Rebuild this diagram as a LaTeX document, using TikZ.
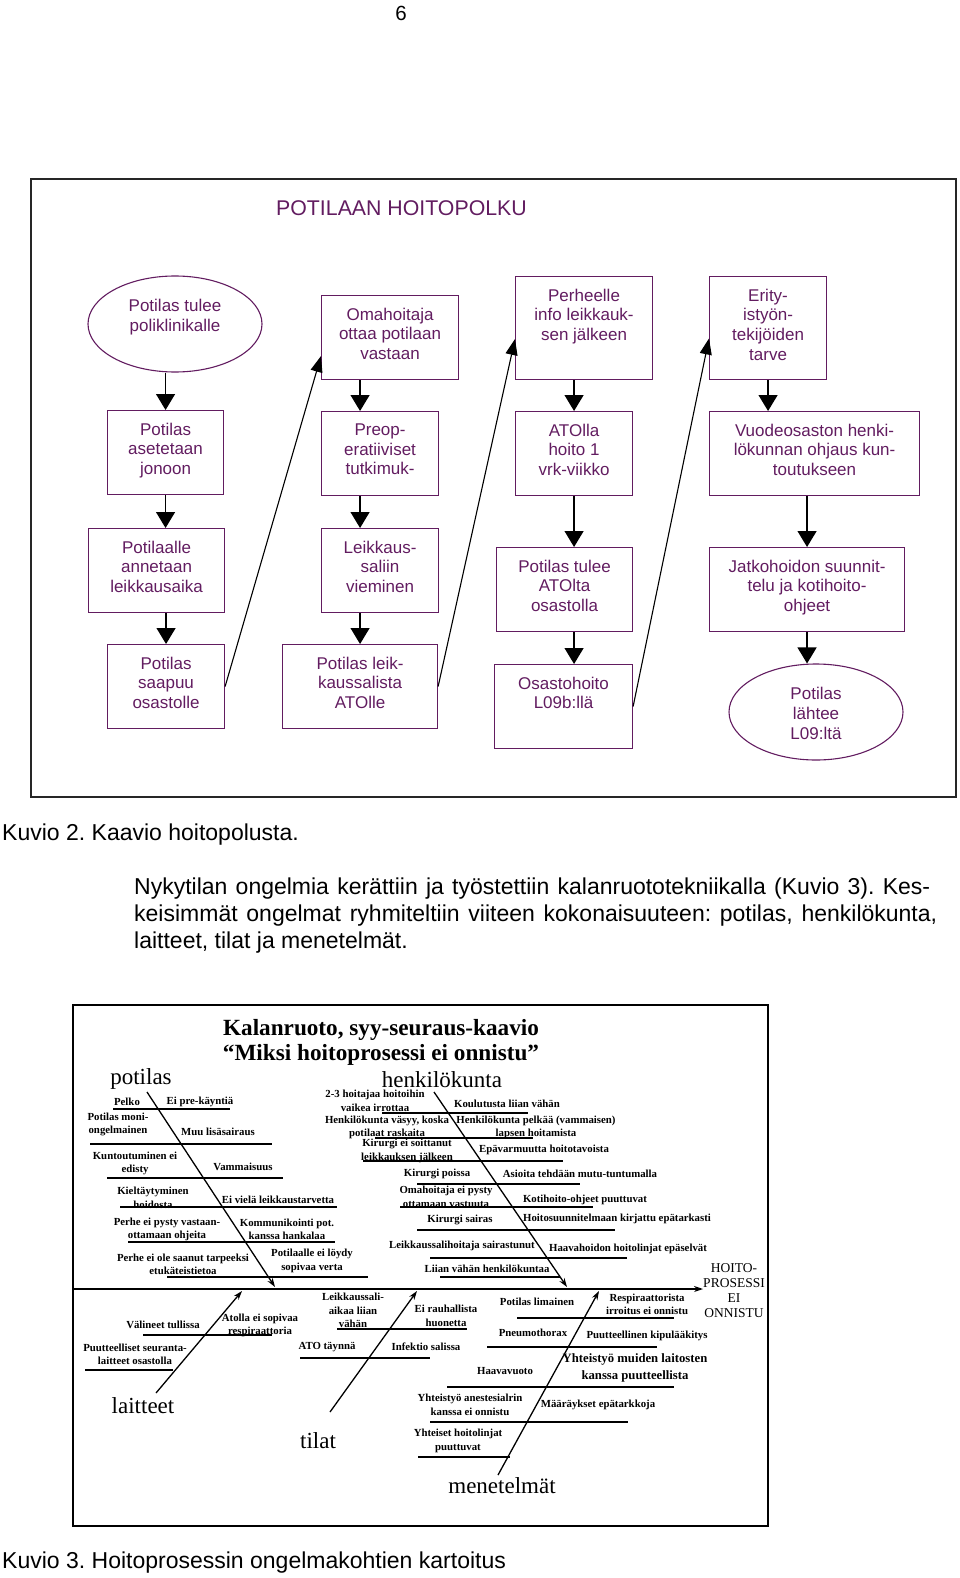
\documentclass[tikz,border=0pt]{standalone}
\usepackage{fontspec}
\setmainfont{Liberation Sans}
\newfontfamily\timesfont{Liberation Serif}
\usepackage{xcolor}
\usetikzlibrary{arrows.meta,positioning,shapes.geometric}

\definecolor{hpurple}{RGB}{98,28,96}
\frenchspacing

\begin{document}
\begin{tikzpicture}[x=1pt, y=-1pt,
    box/.style={rectangle, draw=hpurple, line width=1.1pt, inner sep=0pt, anchor=north west},
    oval/.style={ellipse, draw=hpurple, line width=1.1pt, inner sep=0pt, minimum width=174pt, minimum height=96pt},
    boxtext/.style={align=center, inner sep=0pt, text=hpurple, font=\fontsize{17}{19.7}\selectfont},
    flow/.style={line width=1.3pt, -{Triangle[length=16pt, width=19pt]}},
    jump/.style={line width=1.1pt, -{Triangle[length=16pt, width=12pt]}},
    body/.style={anchor=base west, inner sep=0pt, font=\fontsize{23}{27}\selectfont},
    cause/.style={align=center, inner sep=0pt, font=\timesfont\bfseries\fontsize{10.8}{13.5}\selectfont},
    category/.style={inner sep=0pt, font=\timesfont\fontsize{23}{25}\selectfont},
    bone/.style={line width=1.3pt, -{Stealth[length=9pt, width=6pt]}},
    twig/.style={line width=1.1pt}
  ]
    \useasboundingbox (0,0) rectangle (960,1578);

    \node[inner sep=0pt, font=\fontsize{20.5}{24}\selectfont] (pageno) at (401,13) {6};

    % hoitopolku
    \draw[line width=1.2pt, black!85] (31,179) rectangle (956,797);
    \node[anchor=west, inner sep=0pt, text=hpurple, font=\fontsize{21.3}{24}\selectfont] (pathtitle) at (276,208) {POTILAAN HOITOPOLKU};

    \node[oval] (arrive) at (175,324) {};
    \node[box, minimum width=137pt, minimum height=84pt] (oma) at (321,295) {};
    \node[box, minimum width=137pt, minimum height=103pt] (perhe) at (515,276) {};
    \node[box, minimum width=117pt, minimum height=103pt] (erity) at (709,276) {};

    \node[box, minimum width=116pt, minimum height=84pt] (aset) at (107,410) {};
    \node[box, minimum width=117pt, minimum height=84pt] (preop) at (321,411) {};
    \node[box, minimum width=117pt, minimum height=84pt] (atolla) at (515,411) {};
    \node[box, minimum width=210pt, minimum height=84pt] (vuode) at (709,411) {};

    \node[box, minimum width=136pt, minimum height=84pt] (annet) at (88,528) {};
    \node[box, minimum width=117pt, minimum height=84pt] (leiksali) at (321,528) {};
    \node[box, minimum width=136pt, minimum height=84pt] (tuleeato) at (496,547) {};
    \node[box, minimum width=195pt, minimum height=84pt] (jatko) at (709,547) {};

    \node[box, minimum width=117pt, minimum height=84pt] (saapuu) at (107,644) {};
    \node[box, minimum width=155pt, minimum height=84pt] (leikato) at (282,644) {};
    \node[box, minimum width=138pt, minimum height=84pt] (osasto) at (494,664) {};
    \node[oval] (lahtee) at (816,712) {};

    \node[boxtext, below=23.7pt of arrive.north] (arriveT) {Potilas tulee\\poliklinikalle};
    \node[boxtext, below=12.7pt of oma.north] (omaT) {Omahoitaja\\ottaa potilaan\\vastaan};
    \node[boxtext, below=12.7pt of perhe.north] (perheT) {Perheelle\\info leikkauk-\\sen jälkeen};
    \node[boxtext, below=12.7pt of erity.north] (erityT) {Erity-\\istyön-\\tekijöiden\\tarve};
    \node[boxtext, below=12.7pt of aset.north] (asetT) {Potilas\\asetetaan\\jonoon};
    \node[boxtext, below=12.7pt of preop.north] (preopT) {Preop-\\eratiiviset\\tutkimuk-};
    \node[boxtext, below=12.7pt of atolla.north] (atollaT) {ATOlla\\hoito 1\\vrk-viikko};
    \node[boxtext, below=12.7pt of vuode.north] (vuodeT) {Vuodeosaston henki-\\lökunnan ohjaus kun-\\toutukseen};
    \node[boxtext, below=12.7pt of annet.north] (annetT) {Potilaalle\\annetaan\\leikkausaika};
    \node[boxtext, below=12.7pt of leiksali.north] (leiksaliT) {Leikkaus-\\saliin\\vieminen};
    \node[boxtext, below=12.7pt of tuleeato.north] (tuleeatoT) {Potilas tulee\\ATOlta\\osastolla};
    \node[boxtext, below=12.7pt of jatko.north] (jatkoT) {Jatkohoidon suunnit-\\telu ja kotihoito-\\ohjeet};
    \node[boxtext, below=12.7pt of saapuu.north] (saapuuT) {Potilas\\saapuu\\osastolle};
    \node[boxtext, below=12.7pt of leikato.north] (leikatoT) {Potilas leik-\\kaussalista\\ATOlle};
    \node[boxtext, below=12.7pt of osasto.north] (osastoT) {Osastohoito\\L09b:llä};
    \node[boxtext, below=23.7pt of lahtee.north] (lahteeT) {Potilas\\lähtee\\L09:ltä};

    \draw[flow] (arrive.south -| aset.north) -- (aset.north);
    \draw[flow] (aset.south) -- (aset.south |- annet.north);
    \draw[flow] (annet.south -| saapuu.north) -- (saapuu.north);
    \draw[flow] (oma.south -| leikato.north) -- (preop.north -| leikato.north);
    \draw[flow] (preop.south -| leikato.north) -- (leiksali.north -| leikato.north);
    \draw[flow] (leiksali.south -| leikato.north) -- (leikato.north);
    \draw[flow] (perhe.south -| atolla.north) -- (atolla.north);
    \draw[flow] (atolla.south) -- (atolla.south |- tuleeato.north);
    \draw[flow] (tuleeato.south -| atolla.north) -- (osasto.north -| atolla.north);
    \draw[flow] (erity.south) -- (erity.south |- vuode.north);
    \draw[flow] (vuode.south -| jatko.north) -- (jatko.north);
    \draw[flow] (jatko.south) -- (jatko.south |- lahtee.north);

    \draw[jump] (saapuu.east) -- (oma.195);
    \draw[jump] (leikato.east) -- (perhe.189);
    \draw[jump] (osasto.east) -- (erity.190);

    % teksti
    \node[body] (cap2) at (2,840) {Kuvio 2. Kaavio hoitopolusta.};
    \node[body] (par1) at (134,894) {\makebox[796pt][s]{Nykytilan ongelmia kerättiin ja työstettiin kalanruototekniikalla (Kuvio 3). Kes-}};
    \node[body] (par2) at (134,921) {\makebox[803pt][s]{keisimmät ongelmat ryhmiteltiin viiteen kokonaisuuteen: potilas, henkilökunta,}};
    \node[body] (par3) at (134,948) {laitteet, tilat ja menetelmät.};

    % kalanruoto
    \draw[line width=1.8pt] (73,1005) rectangle (768,1526);
    \node[align=center, inner sep=0pt, font=\timesfont\bfseries\fontsize{23.2}{25.5}\selectfont] (fishtitle) at (381,1042.5) {Kalanruoto, syy-seuraus-kaavio\\“Miksi hoitoprosessi ei onnistu”};

    \node[category] (potilas) at (141,1079) {potilas};
    \node[category] (henkilo) at (442,1079.5) {henkilökunta};
    \node[category] (laitteet) at (143,1405.5) {laitteet};
    \node[category] (tilat) at (318,1440.5) {tilat};
    \node[category] (menet) at (502,1485.5) {menetelmät};
    \node[align=center, inner sep=0pt, font=\timesfont\fontsize{13.5}{15}\selectfont] (hoito) at (734,1290.5) {HOITO-\\PROSESSI\\EI\\ONNISTU};

    \coordinate (spineL) at (74,1289);
    \coordinate (potS) at (147,1092);
    \coordinate (potT) at (275,1287);
    \coordinate (henS) at (434,1092);
    \coordinate (henT) at (567,1287);
    \coordinate (laiS) at (156,1393);
    \coordinate (laiT) at (242,1291);
    \coordinate (tilS) at (330,1412);
    \coordinate (tilT) at (417,1291);
    \coordinate (menS) at (498,1475);
    \coordinate (menT) at (599,1291);

    \draw[bone] (spineL) -- (spineL -| hoito.west);
    \draw[bone] (potS) -- (potT);
    \draw[bone] (henS) -- (henT);
    \draw[bone] (laiS) -- (laiT);
    \draw[bone] (tilS) -- (tilT);
    \draw[bone] (menS) -- (menT);

    % potilas
    \draw[twig] (113,1109) -- (230,1109);
    \draw[twig] (90,1144) -- (272,1144);
    \draw[twig] (107,1178) -- (283,1178);
    \draw[twig] (120,1207) -- (337,1207);
    \draw[twig] (128,1242) -- (335,1242);
    \draw[twig] (167,1277) -- (368,1277);
    \node[cause] (p1) at (127,1102) {Pelko};
    \node[cause] (p2) at (200,1102) {Ei pre-käyntiä};
    \node[cause] (p3) at (118,1124.5) {Potilas moni-\\ongelmainen};
    \node[cause] (p4) at (218,1132) {Muu lisäsairaus};
    \node[cause] (p5) at (135,1163.5) {Kuntoutuminen ei\\edisty};
    \node[cause] (p6) at (243,1167) {Vammaisuus};
    \node[cause] (p7) at (153,1198) {Kieltäytyminen\\hoidosta};
    \node[cause] (p8) at (278,1200) {Ei vielä leikkaustarvetta};
    \node[cause] (p9) at (167,1229.5) {Perhe ei pysty vastaan-\\ottamaan ohjeita};
    \node[cause] (p10) at (287,1229.5) {Kommunikointi pot.\\kanssa hankalaa};
    \node[cause] (p11) at (183,1264.5) {Perhe ei ole saanut tarpeeksi\\etukäteistietoa};
    \node[cause] (p12) at (312,1261) {Potilaalle ei löydy\\sopivaa verta};

    % henkilokunta
    \draw[twig] (382,1113) -- (528,1113);
    \draw[twig] (375,1138) -- (533,1138);
    \draw[twig] (363,1161) -- (563,1161);
    \draw[twig] (417,1184) -- (580,1184);
    \draw[twig] (400,1207) -- (593,1207);
    \draw[twig] (417,1230) -- (615,1230);
    \draw[twig] (430,1258) -- (627,1258);
    \draw[twig] (440,1277) -- (560,1277);
    \node[cause] (h1) at (375,1101) {2-3 hoitajaa hoitoihin\\vaikea irrottaa};
    \node[cause] (h2) at (507,1104) {Koulutusta liian vähän};
    \node[cause] (h3) at (387,1127.5) {Henkilökunta väsyy, koska\\potilaat raskaita};
    \node[cause] (h4) at (536,1127.5) {Henkilökunta pelkää (vammaisen)\\lapsen hoitamista};
    \node[cause] (h5) at (407,1151) {Kirurgi ei soittanut\\leikkauksen jälkeen};
    \node[cause] (h6) at (544,1150) {Epävarmuutta hoitotavoista};
    \node[cause] (h7) at (437,1174) {Kirurgi poissa};
    \node[cause] (h8) at (580,1174) {Asioita tehdään mutu-tuntumalla};
    \node[cause] (h9) at (446,1197) {Omahoitaja ei pysty\\ottamaan vastuuta};
    \node[cause] (h10) at (585,1200) {Kotihoito-ohjeet puuttuvat};
    \node[cause] (h11) at (460,1220) {Kirurgi sairas};
    \node[cause] (h12) at (617,1219) {Hoitosuunnitelmaan kirjattu epätarkasti};
    \node[cause] (h13) at (462,1246) {Leikkaussalihoitaja sairastunut};
    \node[cause] (h14) at (628,1249) {Haavahoidon hoitolinjat epäselvät};
    \node[cause] (h15) at (487,1269) {Liian vähän henkilökuntaa};

    % laitteet
    \draw[twig] (143,1335) -- (272,1335);
    \draw[twig] (85,1370) -- (173,1370);
    \node[cause] (l1) at (163,1325) {Välineet tullissa};
    \node[cause] (l2) at (260,1325.5) {Atolla ei sopivaa\\respiraattoria};
    \node[cause] (l3) at (135,1354.5) {Puutteelliset seuranta-\\laitteet osastolla};

    % tilat
    \draw[twig] (337,1329) -- (467,1329);
    \draw[twig] (300,1358) -- (430,1358);
    \node[cause] (t1) at (353,1310.5) {Leikkaussali-\\aikaa liian\\vähän};
    \node[cause] (t2) at (446,1316) {Ei rauhallista\\huonetta};
    \node[cause] (t3) at (327,1347) {ATO täynnä};
    \node[cause] (t4) at (426,1347) {Infektio salissa};

    % menetelmat
    \draw[twig] (517,1318) -- (674,1318);
    \draw[twig] (487,1347) -- (657,1347);
    \draw[twig] (447,1387) -- (674,1387);
    \draw[twig] (430,1422) -- (628,1422);
    \draw[twig] (418,1457) -- (510,1457);
    \node[cause] (m1) at (537,1302) {Potilas limainen};
    \node[cause] (m2) at (647,1304.5) {Respiraattorista\\irroitus ei onnistu};
    \node[cause] (m3) at (533,1333) {Pneumothorax};
    \node[cause] (m4) at (647,1336) {Puutteellinen kipulääkitys};
    \node[cause, font=\timesfont\bfseries\fontsize{12.7}{17}\selectfont] (m5) at (635,1367.5) {Yhteistyö muiden laitosten\\kanssa puutteellista};
    \node[cause] (m6) at (505,1371) {Haavavuoto};
    \node[cause] (m7) at (470,1405) {Yhteistyö anestesialrin\\kanssa ei onnistu};
    \node[cause] (m8) at (598,1405) {Määräykset epätarkkoja};
    \node[cause] (m9) at (458,1441) {Yhteiset hoitolinjat\\puuttuvat};

    \node[body] (cap3) at (2,1568) {Kuvio 3. Hoitoprosessin ongelmakohtien kartoitus};
\end{tikzpicture}
\end{document}
